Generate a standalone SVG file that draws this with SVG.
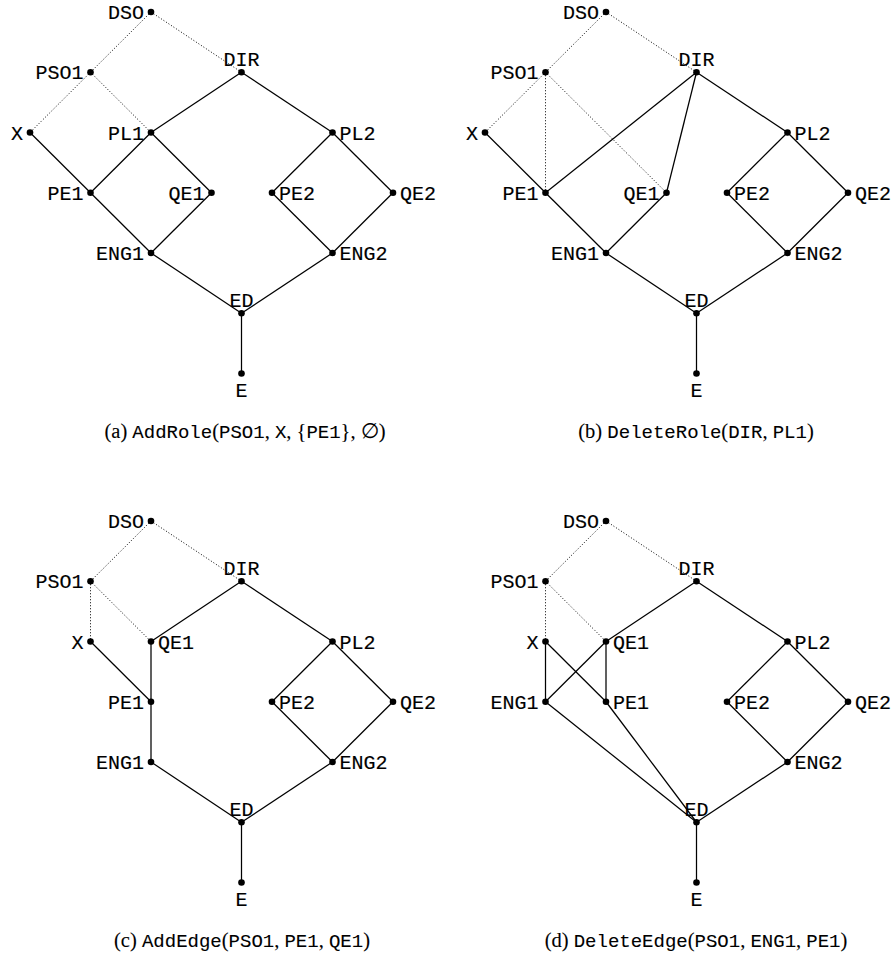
<svg xmlns="http://www.w3.org/2000/svg" width="896" height="960" viewBox="0 0 896 960">
<style>
.bg{fill:#fff}
.e{stroke:#000;stroke-width:1.25;fill:none}
.d{stroke:#000;stroke-width:1;stroke-dasharray:1 2;fill:none}
circle{fill:#000}
text{font-family:"Liberation Mono","DejaVu Sans Mono",monospace;font-size:20px;fill:#000;stroke:#000;stroke-width:0.15}
.l{text-anchor:end}
.r{text-anchor:start}
.m{text-anchor:middle}
.cap{font-family:"Liberation Serif","DejaVu Serif",serif;font-size:20.5px;text-anchor:middle;stroke-width:0.1}
.tt{font-family:"Liberation Mono","DejaVu Sans Mono",monospace;font-size:19px}
</style>
<rect class="bg" x="0" y="0" width="896" height="960"/>

<!-- Panel (a) -->
<g id="panel-a">
<g id="a-connectors">
<line class="d" x1="151" y1="12" x2="90.5" y2="72.25"/>
<line class="d" x1="151" y1="12" x2="241.5" y2="72.25"/>
<line class="d" x1="90.5" y1="72.25" x2="30" y2="132.5"/>
<line class="d" x1="90.5" y1="72.25" x2="151" y2="132.5"/>
<line class="e" x1="241.5" y1="72.25" x2="151" y2="132.5"/>
<line class="e" x1="241.5" y1="72.25" x2="332.5" y2="132.5"/>
<line class="e" x1="30" y1="132.5" x2="90.5" y2="192.75"/>
<line class="e" x1="151" y1="132.5" x2="90.5" y2="192.75"/>
<line class="e" x1="151" y1="132.5" x2="211.5" y2="192.75"/>
<line class="e" x1="332.5" y1="132.5" x2="272" y2="192.75"/>
<line class="e" x1="332.5" y1="132.5" x2="393" y2="192.75"/>
<line class="e" x1="90.5" y1="192.75" x2="151" y2="253"/>
<line class="e" x1="211.5" y1="192.75" x2="151" y2="253"/>
<line class="e" x1="272" y1="192.75" x2="332.5" y2="253"/>
<line class="e" x1="393" y1="192.75" x2="332.5" y2="253"/>
<line class="e" x1="151" y1="253" x2="241.5" y2="313.25"/>
<line class="e" x1="332.5" y1="253" x2="241.5" y2="313.25"/>
<line class="e" x1="241.5" y1="313.25" x2="241.5" y2="373.5"/>
</g>
<g id="a-DSO"><circle cx="151" cy="12" r="3.3"/><text class="l" x="144" y="19">DSO</text></g>
<g id="a-PSO1"><circle cx="90.5" cy="72.25" r="3.3"/><text class="l" x="83.5" y="79.25">PSO1</text></g>
<g id="a-DIR"><circle cx="241.5" cy="72.25" r="3.3"/><text class="m" x="241.5" y="65.75">DIR</text></g>
<g id="a-X"><circle cx="30" cy="132.5" r="3.3"/><text class="l" x="23" y="139.5">X</text></g>
<g id="a-PL1"><circle cx="151" cy="132.5" r="3.3"/><text class="l" x="144" y="139.5">PL1</text></g>
<g id="a-PL2"><circle cx="332.5" cy="132.5" r="3.3"/><text class="r" x="339.5" y="139.5">PL2</text></g>
<g id="a-PE1"><circle cx="90.5" cy="192.75" r="3.3"/><text class="l" x="83.5" y="199.75">PE1</text></g>
<g id="a-QE1"><circle cx="211.5" cy="192.75" r="3.3"/><text class="l" x="204.5" y="199.75">QE1</text></g>
<g id="a-PE2"><circle cx="272" cy="192.75" r="3.3"/><text class="r" x="279" y="199.75">PE2</text></g>
<g id="a-QE2"><circle cx="393" cy="192.75" r="3.3"/><text class="r" x="400" y="199.75">QE2</text></g>
<g id="a-ENG1"><circle cx="151" cy="253" r="3.3"/><text class="l" x="144" y="260">ENG1</text></g>
<g id="a-ENG2"><circle cx="332.5" cy="253" r="3.3"/><text class="r" x="339.5" y="260">ENG2</text></g>
<g id="a-ED"><circle cx="241.5" cy="313.25" r="3.3"/><text class="m" x="241.5" y="306.75">ED</text></g>
<g id="a-E"><circle cx="241.5" cy="373.5" r="3.3"/><text class="m" x="241.5" y="397">E</text></g>
</g>

<!-- Panel (b) -->
<g id="panel-b" transform="translate(455,0)">
<g id="b-connectors">
<line class="d" x1="151" y1="12" x2="90.5" y2="72.25"/>
<line class="d" x1="151" y1="12" x2="241.5" y2="72.25"/>
<line class="d" x1="90.5" y1="72.25" x2="30" y2="132.5"/>
<line class="d" x1="90.5" y1="72.25" x2="90.5" y2="192.75"/>
<line class="d" x1="90.5" y1="72.25" x2="211.5" y2="192.75"/>
<line class="e" x1="241.5" y1="72.25" x2="90.5" y2="192.75"/>
<line class="e" x1="241.5" y1="72.25" x2="211.5" y2="192.75"/>
<line class="e" x1="241.5" y1="72.25" x2="332.5" y2="132.5"/>
<line class="e" x1="30" y1="132.5" x2="90.5" y2="192.75"/>
<line class="e" x1="332.5" y1="132.5" x2="272" y2="192.75"/>
<line class="e" x1="332.5" y1="132.5" x2="393" y2="192.75"/>
<line class="e" x1="90.5" y1="192.75" x2="151" y2="253"/>
<line class="e" x1="211.5" y1="192.75" x2="151" y2="253"/>
<line class="e" x1="272" y1="192.75" x2="332.5" y2="253"/>
<line class="e" x1="393" y1="192.75" x2="332.5" y2="253"/>
<line class="e" x1="151" y1="253" x2="241.5" y2="313.25"/>
<line class="e" x1="332.5" y1="253" x2="241.5" y2="313.25"/>
<line class="e" x1="241.5" y1="313.25" x2="241.5" y2="373.5"/>
</g>
<g id="b-DSO"><circle cx="151" cy="12" r="3.3"/><text class="l" x="144" y="19">DSO</text></g>
<g id="b-PSO1"><circle cx="90.5" cy="72.25" r="3.3"/><text class="l" x="83.5" y="79.25">PSO1</text></g>
<g id="b-DIR"><circle cx="241.5" cy="72.25" r="3.3"/><text class="m" x="241.5" y="65.75">DIR</text></g>
<g id="b-X"><circle cx="30" cy="132.5" r="3.3"/><text class="l" x="23" y="139.5">X</text></g>
<g id="b-PL2"><circle cx="332.5" cy="132.5" r="3.3"/><text class="r" x="339.5" y="139.5">PL2</text></g>
<g id="b-PE1"><circle cx="90.5" cy="192.75" r="3.3"/><text class="l" x="83.5" y="199.75">PE1</text></g>
<g id="b-QE1"><circle cx="211.5" cy="192.75" r="3.3"/><text class="l" x="204.5" y="199.75">QE1</text></g>
<g id="b-PE2"><circle cx="272" cy="192.75" r="3.3"/><text class="r" x="279" y="199.75">PE2</text></g>
<g id="b-QE2"><circle cx="393" cy="192.75" r="3.3"/><text class="r" x="400" y="199.75">QE2</text></g>
<g id="b-ENG1"><circle cx="151" cy="253" r="3.3"/><text class="l" x="144" y="260">ENG1</text></g>
<g id="b-ENG2"><circle cx="332.5" cy="253" r="3.3"/><text class="r" x="339.5" y="260">ENG2</text></g>
<g id="b-ED"><circle cx="241.5" cy="313.25" r="3.3"/><text class="m" x="241.5" y="306.75">ED</text></g>
<g id="b-E"><circle cx="241.5" cy="373.5" r="3.3"/><text class="m" x="241.5" y="397">E</text></g>
</g>

<!-- Panel (c) -->
<g id="panel-c" transform="translate(0,509)">
<g id="c-connectors">
<line class="d" x1="151" y1="12" x2="90.5" y2="72.25"/>
<line class="d" x1="151" y1="12" x2="241.5" y2="72.25"/>
<line class="d" x1="90.5" y1="72.25" x2="90.5" y2="132.5"/>
<line class="d" x1="90.5" y1="72.25" x2="151" y2="132.5"/>
<line class="e" x1="241.5" y1="72.25" x2="151" y2="132.5"/>
<line class="e" x1="241.5" y1="72.25" x2="332.5" y2="132.5"/>
<line class="e" x1="90.5" y1="132.5" x2="151" y2="192.75"/>
<line class="e" x1="151" y1="132.5" x2="151" y2="192.75"/>
<line class="e" x1="151" y1="192.75" x2="151" y2="253"/>
<line class="e" x1="332.5" y1="132.5" x2="272" y2="192.75"/>
<line class="e" x1="332.5" y1="132.5" x2="393" y2="192.75"/>
<line class="e" x1="272" y1="192.75" x2="332.5" y2="253"/>
<line class="e" x1="393" y1="192.75" x2="332.5" y2="253"/>
<line class="e" x1="151" y1="253" x2="241.5" y2="313.25"/>
<line class="e" x1="332.5" y1="253" x2="241.5" y2="313.25"/>
<line class="e" x1="241.5" y1="313.25" x2="241.5" y2="373.5"/>
</g>
<g id="c-DSO"><circle cx="151" cy="12" r="3.3"/><text class="l" x="144" y="19">DSO</text></g>
<g id="c-PSO1"><circle cx="90.5" cy="72.25" r="3.3"/><text class="l" x="83.5" y="79.25">PSO1</text></g>
<g id="c-DIR"><circle cx="241.5" cy="72.25" r="3.3"/><text class="m" x="241.5" y="65.75">DIR</text></g>
<g id="c-X"><circle cx="90.5" cy="132.5" r="3.3"/><text class="l" x="83.5" y="139.5">X</text></g>
<g id="c-QE1"><circle cx="151" cy="132.5" r="3.3"/><text class="r" x="158" y="139.5">QE1</text></g>
<g id="c-PL2"><circle cx="332.5" cy="132.5" r="3.3"/><text class="r" x="339.5" y="139.5">PL2</text></g>
<g id="c-PE1"><circle cx="151" cy="192.75" r="3.3"/><text class="l" x="144" y="199.75">PE1</text></g>
<g id="c-PE2"><circle cx="272" cy="192.75" r="3.3"/><text class="r" x="279" y="199.75">PE2</text></g>
<g id="c-QE2"><circle cx="393" cy="192.75" r="3.3"/><text class="r" x="400" y="199.75">QE2</text></g>
<g id="c-ENG1"><circle cx="151" cy="253" r="3.3"/><text class="l" x="144" y="260">ENG1</text></g>
<g id="c-ENG2"><circle cx="332.5" cy="253" r="3.3"/><text class="r" x="339.5" y="260">ENG2</text></g>
<g id="c-ED"><circle cx="241.5" cy="313.25" r="3.3"/><text class="m" x="241.5" y="306.75">ED</text></g>
<g id="c-E"><circle cx="241.5" cy="373.5" r="3.3"/><text class="m" x="241.5" y="397">E</text></g>
</g>

<!-- Panel (d) -->
<g id="panel-d" transform="translate(455,509)">
<g id="d-connectors">
<line class="d" x1="151" y1="12" x2="90.5" y2="72.25"/>
<line class="d" x1="151" y1="12" x2="241.5" y2="72.25"/>
<line class="d" x1="90.5" y1="72.25" x2="90.5" y2="132.5"/>
<line class="d" x1="90.5" y1="72.25" x2="151" y2="132.5"/>
<line class="e" x1="241.5" y1="72.25" x2="151" y2="132.5"/>
<line class="e" x1="241.5" y1="72.25" x2="332.5" y2="132.5"/>
<line class="e" x1="90.5" y1="132.5" x2="90.5" y2="192.75"/>
<line class="e" x1="90.5" y1="132.5" x2="151" y2="192.75"/>
<line class="e" x1="151" y1="132.5" x2="90.5" y2="192.75"/>
<line class="e" x1="151" y1="132.5" x2="151" y2="192.75"/>
<line class="e" x1="90.5" y1="192.75" x2="241.5" y2="313.25"/>
<line class="e" x1="151" y1="192.75" x2="241.5" y2="313.25"/>
<line class="e" x1="332.5" y1="132.5" x2="272" y2="192.75"/>
<line class="e" x1="332.5" y1="132.5" x2="393" y2="192.75"/>
<line class="e" x1="272" y1="192.75" x2="332.5" y2="253"/>
<line class="e" x1="393" y1="192.75" x2="332.5" y2="253"/>
<line class="e" x1="332.5" y1="253" x2="241.5" y2="313.25"/>
<line class="e" x1="241.5" y1="313.25" x2="241.5" y2="373.5"/>
</g>
<g id="d-DSO"><circle cx="151" cy="12" r="3.3"/><text class="l" x="144" y="19">DSO</text></g>
<g id="d-PSO1"><circle cx="90.5" cy="72.25" r="3.3"/><text class="l" x="83.5" y="79.25">PSO1</text></g>
<g id="d-DIR"><circle cx="241.5" cy="72.25" r="3.3"/><text class="m" x="241.5" y="65.75">DIR</text></g>
<g id="d-X"><circle cx="90.5" cy="132.5" r="3.3"/><text class="l" x="83.5" y="139.5">X</text></g>
<g id="d-QE1"><circle cx="151" cy="132.5" r="3.3"/><text class="r" x="158" y="139.5">QE1</text></g>
<g id="d-PL2"><circle cx="332.5" cy="132.5" r="3.3"/><text class="r" x="339.5" y="139.5">PL2</text></g>
<g id="d-ENG1"><circle cx="90.5" cy="192.75" r="3.3"/><text class="l" x="83.5" y="199.75">ENG1</text></g>
<g id="d-PE1"><circle cx="151" cy="192.75" r="3.3"/><text class="r" x="158" y="199.75">PE1</text></g>
<g id="d-PE2"><circle cx="272" cy="192.75" r="3.3"/><text class="r" x="279" y="199.75">PE2</text></g>
<g id="d-QE2"><circle cx="393" cy="192.75" r="3.3"/><text class="r" x="400" y="199.75">QE2</text></g>
<g id="d-ENG2"><circle cx="332.5" cy="253" r="3.3"/><text class="r" x="339.5" y="260">ENG2</text></g>
<g id="d-ED"><circle cx="241.5" cy="313.25" r="3.3"/><text class="m" x="241.5" y="306.75">ED</text></g>
<g id="d-E"><circle cx="241.5" cy="373.5" r="3.3"/><text class="m" x="241.5" y="397">E</text></g>
</g>

<!-- Captions -->
<g id="captions">
<text class="cap" x="245" y="437.5">(a) <tspan class="tt">AddRole</tspan>(<tspan class="tt">PSO1</tspan>, <tspan class="tt">X</tspan>, {<tspan class="tt">PE1</tspan>}, ∅)</text>
<text class="cap" x="696" y="437.5">(b) <tspan class="tt">DeleteRole</tspan>(<tspan class="tt">DIR</tspan>, <tspan class="tt">PL1</tspan>)</text>
<text class="cap" x="242" y="946.5">(c) <tspan class="tt">AddEdge</tspan>(<tspan class="tt">PSO1</tspan>, <tspan class="tt">PE1</tspan>, <tspan class="tt">QE1</tspan>)</text>
<text class="cap" x="696" y="946.5">(d) <tspan class="tt">DeleteEdge</tspan>(<tspan class="tt">PSO1</tspan>, <tspan class="tt">ENG1</tspan>, <tspan class="tt">PE1</tspan>)</text>
</g>
</svg>
